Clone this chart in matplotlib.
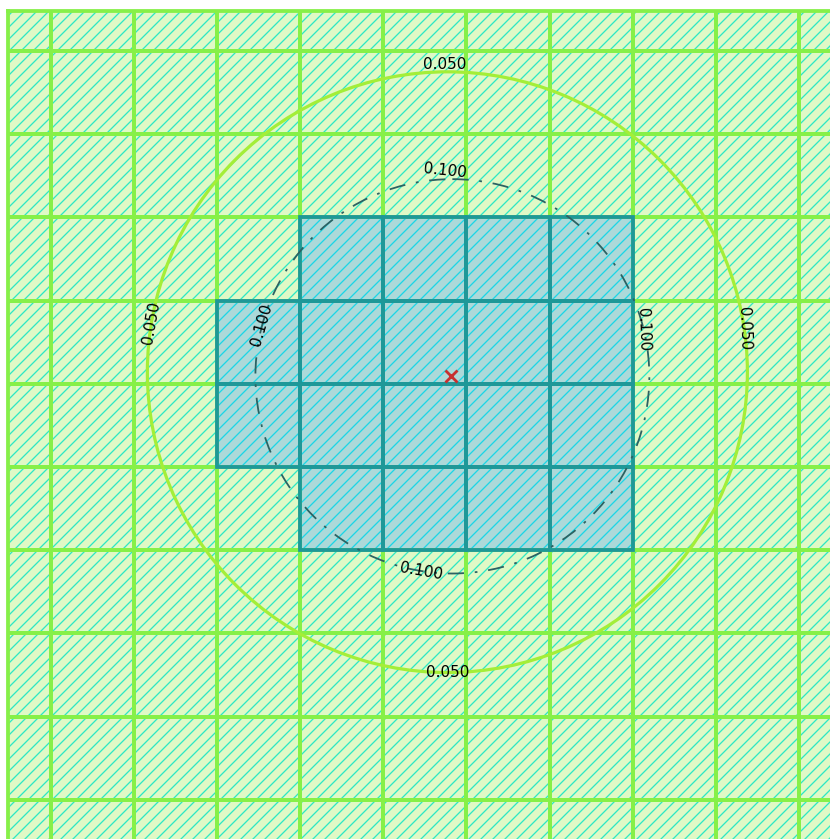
import numpy as np
import matplotlib
matplotlib.use("Agg")
import matplotlib.pyplot as plt
from matplotlib.patches import Rectangle, Circle

# grid of cells (unit size), rows counted downwards
grid_cols = list(range(-1, 10))
grid_rows = list(range(-1, 10))

# selected (blue) cells: one entry per row, first and last column
sel_rows = [2, 3, 4, 5]
sel_col_first = [3, 2, 2, 3]
sel_col_last = [6, 6, 6, 6]

# source point
src_x = 4.81
src_y = 3.91

# contour levels, drawn as circles around their centre
levels = [0.050, 0.100]
level_cx = [4.77, 4.83]
level_cy = [3.86, 3.91]
level_r = [3.61, 2.37]

# where the labels sit on each contour (angle in degrees, counter-clockwise)
# and how they are turned
label_level = [0, 0, 0, 0, 1, 1, 1, 1]
label_angle = [90.5, 270.0, 170.5, 8.4, 92.0, 261.0, 165.0, 13.8]
label_rot = [0.0, 0.0, 80.0, -88.0, -6.0, -10.0, 74.0, -88.0]
label_off = [0.09, 0.0, 0.0, 0.0, 0.1, 0.0, 0.0, 0.0]

green_fill = "#dff9c6"
green_hatch = "#2ee8c4"
green_edge = "#86f048"
blue_fill = "#acd9d9"
blue_hatch = "#1cd6e6"
blue_edge = "#1e9898"

DPI = 144
plt.rcParams["hatch.linewidth"] = 0.65

fig = plt.figure(figsize=(830 / DPI, 839 / DPI), dpi=DPI)
ax = fig.add_axes([8 / 830, 0, 822 / 830, 828 / 839])

selected = set()
for r, c0, c1 in zip(sel_rows, sel_col_first, sel_col_last):
    for c in range(c0, c1 + 1):
        selected.add((c, r))

# fill + hatch of every cell
for r in grid_rows:
    for c in grid_cols:
        if (c, r) in selected:
            fc, hc = blue_fill, blue_hatch
        else:
            fc, hc = green_fill, green_hatch
        ax.add_patch(Rectangle((c, r), 1, 1, facecolor=fc, edgecolor=hc,
                               hatch="////", lw=0, zorder=1))

# cell borders, green first then the selected ones on top
for r in grid_rows:
    for c in grid_cols:
        if (c, r) not in selected:
            ax.add_patch(Rectangle((c, r), 1, 1, fill=False,
                                   edgecolor=green_edge, lw=1.9, zorder=2))
for c, r in selected:
    ax.add_patch(Rectangle((c, r), 1, 1, fill=False,
                           edgecolor=blue_edge, lw=1.9, zorder=3))

# contours
ax.add_patch(Circle((level_cx[0], level_cy[0]), level_r[0], fill=False,
                    edgecolor="#a4ee38", lw=1.6, zorder=4))
ax.add_patch(Circle((level_cx[1], level_cy[1]), level_r[1], fill=False,
                    edgecolor="#2c6262", lw=0.9, ls=(0, (9, 6, 1.5, 6)),
                    zorder=4))

for lv, ang, rot, off in zip(label_level, label_angle, label_rot, label_off):
    t = np.deg2rad(ang)
    rr = level_r[lv] + off
    x = level_cx[lv] + rr * np.cos(t)
    y = level_cy[lv] - rr * np.sin(t)
    ax.text(x, y, f"{levels[lv]:.3f}", fontsize=7.6, color="black",
            rotation=rot, ha="center", va="center", zorder=6)

ax.plot([src_x], [src_y], marker="x", color="#c83030", ms=6.1, mew=1.4,
        zorder=7)

ax.set_xlim(-0.517, 9.374)
ax.set_ylim(9.471, -0.481)
ax.set_xticks([])
ax.set_yticks([])
for side in ["right", "bottom"]:
    ax.spines[side].set_visible(False)
for side in ["left", "top"]:
    ax.spines[side].set_color(green_edge)
    ax.spines[side].set_linewidth(1.9)
    ax.spines[side].set_zorder(5)

fig.savefig("out.png", dpi=DPI)
